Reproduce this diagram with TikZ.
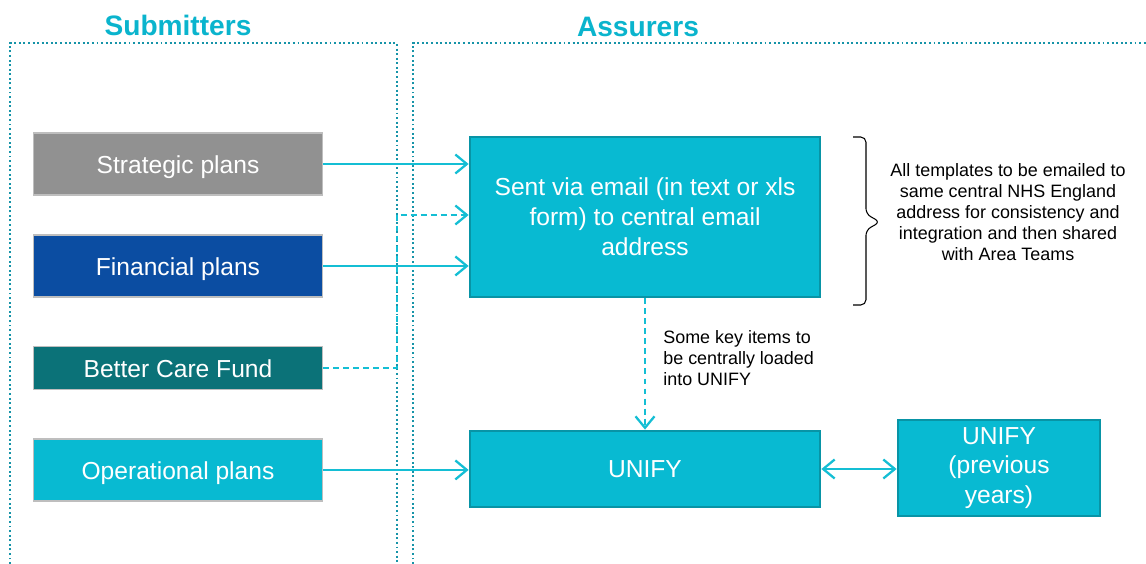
\documentclass[tikz,border=0pt]{standalone}
\usepackage{fontspec}
\setmainfont{Liberation Sans}
\usepackage{tikz}
\usetikzlibrary{positioning, arrows.meta, decorations.pathreplacing}
\definecolor{titlecol}{RGB}{10,180,205}
\definecolor{framecol}{RGB}{22,148,168}
\definecolor{plangray}{RGB}{145,145,145}
\definecolor{planedge}{RGB}{190,190,190}
\definecolor{planblue}{RGB}{11,77,162}
\definecolor{planteal}{RGB}{11,114,120}
\definecolor{nhscyan}{RGB}{8,186,210}
\definecolor{hubedge}{RGB}{8,148,166}
\definecolor{arrowcol}{RGB}{20,190,212}

\begin{document}
\begin{tikzpicture}[x=0.02cm,y=-0.02cm,>={Straight Barb[length=2.3mm,width=3.8mm,line width=1.3pt]},node distance=2.04cm,semithick]
\tikzstyle{plan}=[draw=planedge,line width=0.8pt,minimum width=5.78cm,minimum height=1.24cm,text=white,text height=12pt,text depth=1pt,font=\fontsize{14}{17}\selectfont]
\tikzstyle{hub}=[fill=nhscyan,draw=hubedge,line width=1.6pt,text=white,align=center,font=\fontsize{14}{17}\selectfont]
\tikzstyle{frame}=[draw=framecol,line width=1.2pt,dash pattern=on 1.1pt off 1.5pt]
\tikzstyle{flow}=[->,draw=arrowcol,line width=0.8pt]
\tikzstyle{heading}=[text=titlecol,font=\bfseries\fontsize{16}{19}\selectfont]
\tikzstyle{remark}=[font=\fontsize{10.2}{11.9}\selectfont]
\useasboundingbox (0,0) rectangle (1146,564);

% columns
\draw[frame] (10,564) -- (10,43) -- (397,43) -- (397,564);
\draw[frame] (413,564) -- (413,43) -- (1146,43);
\node[heading] (subtitle) at (178,25) {Submitters};
\node[heading] (asstitle) at (638,27) {Assurers};

% submitters
\node[plan,fill=plangray] (strat) at (178,164) {Strategic plans};
\node[plan,fill=planblue] (fin) [below of=strat] {Financial plans};
\node[plan,fill=planteal,minimum height=0.86cm] (bcf) [below of=fin] {Better Care Fund};
\node[plan,fill=nhscyan] (oper) [below of=bcf] {Operational plans};

% assurers
\node[hub,minimum width=7cm,minimum height=3.2cm] (email) at (645,217) {Sent via email (in text or xls\\form) to central email\\address};
\node[hub,minimum width=7cm,minimum height=1.52cm] (unify) at (645,469) {UNIFY};
\node[hub,minimum width=4.04cm,minimum height=1.92cm,inner sep=1pt] (prev) at (999,468) {UNIFY\\(previous\\years)};

\node[remark,align=center] (note) at (1008,212) {All templates to be emailed to\\same central NHS England\\address for consistency and\\integration and then shared\\with Area Teams};
\node[remark,align=left,anchor=west] (keynote) at (657,358) {Some key items to\\be centrally loaded\\into UNIFY};

% connectors
\coordinate (merge) at (397,215);
\draw[flow] (strat.east) -- (strat.east -| email.west);
\draw[flow] (fin.east) -- (fin.east -| email.west);
\draw[flow,dash pattern=on 3.4pt off 2.3pt] (bcf.east) -| (merge) -- (merge -| email.west);
\draw[flow] (oper.east) -- (oper.east -| unify.west);
\draw[flow,dash pattern=on 3.4pt off 2.3pt] (email.south) -- (unify.north);
\draw[flow,<->] (unify.east) -- (unify.east -| prev.west);

% brace
\draw[line width=0.6pt,rounded corners=3pt] (853,137) -- (866,137) -- (866,214) -- (880,222)
  -- (866,230) -- (866,305) -- (853,305);
\end{tikzpicture}
\end{document}
